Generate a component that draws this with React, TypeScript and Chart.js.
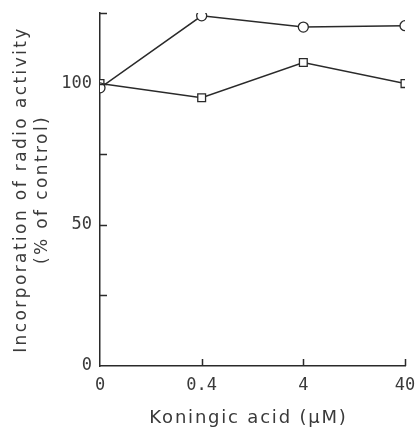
import React, { useEffect, useRef } from "react";
import { Chart, registerables } from "chart.js";

Chart.register(...registerables);

const xLabels = ["0", "0.4", "4", "40"];
const xPositions = [0, 1, 2, 3];
const circleValues = [98.5, 124, 120, 120.5];
const squareValues = [100, 95, 107.5, 100];
const yLabeled = [0, 50, 100];
const yTickValues = [25, 50, 75, 100, 125];
const xTickValues = [1, 2, 3];
const yTitle = ["Incorporation of radio activity", "(% of control)"];
const xTitle = "Koningic acid (\u03bcM)";

const INK = "#2a2a2a";
const TEXT = "#3a3a3a";

const innerTicksAndTitles = {
  id: "innerTicksAndTitles",
  afterDraw(chart: any) {
    const { ctx, scales } = chart;
    const xs = scales.x;
    const ys = scales.y;
    ctx.save();
    ctx.strokeStyle = INK;
    ctx.lineWidth = 1.5;
    ctx.beginPath();
    for (const v of yTickValues) {
      const py = Math.round(ys.getPixelForValue(v)) + 0.5;
      ctx.moveTo(xs.left, py);
      ctx.lineTo(xs.left + 7, py);
    }
    for (const v of xTickValues) {
      const px = Math.round(xs.getPixelForValue(v)) + 0.5;
      ctx.moveTo(px, ys.bottom);
      ctx.lineTo(px, ys.bottom - 7);
    }
    ctx.stroke();

    // axis titles
    ctx.fillStyle = TEXT;
    ctx.font = "17px 'DejaVu Sans'";
    ctx.textAlign = "center";
    ctx.textBaseline = "middle";
    (ctx as any).letterSpacing = "2.4px";
    const cy = (ys.top + ys.bottom) / 2;
    ctx.save();
    ctx.translate(22, cy);
    ctx.rotate(-Math.PI / 2);
    ctx.fillText(yTitle[0], 0, 0);
    ctx.fillText(yTitle[1], 0, 21);
    ctx.restore();

    ctx.font = "18px 'DejaVu Sans'";
    (ctx as any).letterSpacing = "1.8px";
    ctx.fillText(xTitle, (xs.left + xs.right) / 2 - 4, 418);
    ctx.restore();
  },
};

export default function App() {
  const ref = useRef<HTMLCanvasElement | null>(null);
  useEffect(() => {
    if (!ref.current) return;
    const chart = new Chart(ref.current, {
      type: "line",
      data: {
        datasets: [
          {
            label: "circle",
            data: xPositions.map((x, i) => ({ x, y: circleValues[i] })),
            borderColor: INK,
            borderWidth: 1.5,
            pointStyle: "circle",
            pointRadius: 5,
            pointBackgroundColor: "#fff",
            pointBorderColor: INK,
            pointBorderWidth: 1.3,
            tension: 0,
            order: 0,
          },
          {
            label: "square",
            data: xPositions.map((x, i) => ({ x, y: squareValues[i] })),
            borderColor: INK,
            borderWidth: 1.5,
            pointStyle: "rect",
            pointRadius: 5.5,
            pointBackgroundColor: "#fff",
            pointBorderColor: INK,
            pointBorderWidth: 1.3,
            tension: 0,
            order: 1,
          },
        ],
      },
      options: {
        responsive: false,
        animation: false,
        devicePixelRatio: 1,
        layout: { padding: { left: 0, top: 13, right: 11, bottom: 0 } },
        plugins: { legend: { display: false }, tooltip: { enabled: false } },
        scales: {
          x: {
            type: "linear",
            min: 0,
            max: 3,
            afterFit: (s: any) => {
              s.height = 62;
              s.paddingLeft = 0;
              s.paddingRight = 0;
            },
            afterBuildTicks: (s: any) => {
              s.ticks = xPositions.map((v) => ({ value: v }));
            },
            grid: { display: false, drawTicks: false },
            border: { display: true, color: INK, width: 1.5 },
            ticks: {
              padding: 9,
              color: TEXT,
              font: { family: "'DejaVu Sans Mono'", size: 17 },
              callback: (v: any) => xLabels[Number(v)] ?? "",
              maxRotation: 0,
              autoSkip: false,
            },
            title: { display: false },
          },
          y: {
            type: "linear",
            min: 0,
            max: 125,
            afterFit: (s: any) => {
              s.width = 100;
              s.paddingTop = 0;
              s.paddingBottom = 0;
            },
            afterBuildTicks: (s: any) => {
              s.ticks = yLabeled.map((v) => ({ value: v }));
            },
            grid: { display: false, drawTicks: false },
            border: { display: true, color: INK, width: 1.5 },
            ticks: {
              padding: 8,
              color: TEXT,
              font: { family: "'DejaVu Sans Mono'", size: 17 },
              autoSkip: false,
            },
            title: { display: false },
          },
        },
      },
      plugins: [innerTicksAndTitles],
    });
    return () => chart.destroy();
  }, []);
  return (
    <div style={{ position: "absolute", left: 0, top: 0, width: 416, height: 428, background: "#fff" }}>
      <canvas ref={ref} width={416} height={428} />
    </div>
  );
}
